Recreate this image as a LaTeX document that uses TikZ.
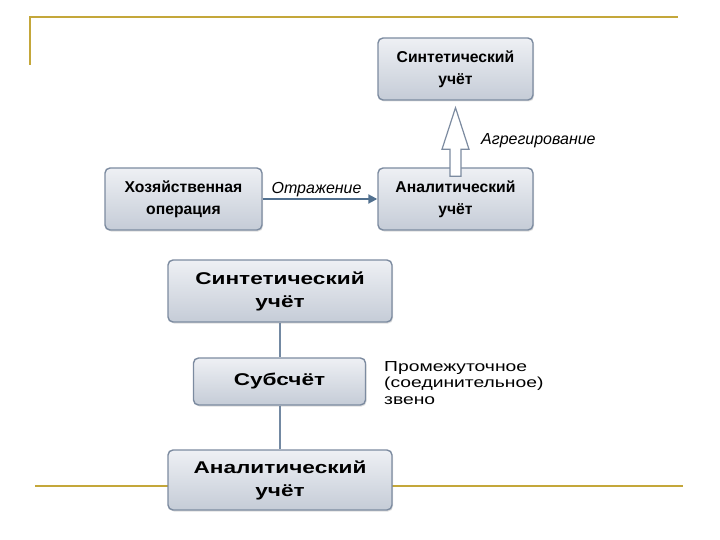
\documentclass[tikz,border=0pt]{standalone}
\usepackage{fontspec}
\setmainfont{Liberation Sans}
\newfontfamily\widefont[FakeStretch=1.33]{Liberation Sans}
\usetikzlibrary{arrows.meta,shadows,calc}
\definecolor{gold}{HTML}{C4A73A}
\definecolor{boxtop}{HTML}{EEF0F4}
\definecolor{boxbot}{HTML}{C5CCD7}
\definecolor{boxline}{HTML}{7C8BA0}
\definecolor{arrowc}{HTML}{51708F}
\definecolor{linkc}{HTML}{7389A2}
\tikzset{
  box/.style={draw=boxline, line width=1.4pt, rounded corners=5pt,
    top color=boxtop, bottom color=boxbot, align=center,
    inner sep=0pt,
    drop shadow={shadow xshift=1pt, shadow yshift=-1.5pt, opacity=0.25}},
  smallbox/.style={box, minimum width=155pt, minimum height=62pt,
    font=\bfseries\fontsize{15.7}{22}\selectfont},
  bigbox/.style={box, minimum width=224pt, minimum height=62pt,
    font=\widefont\bfseries\fontsize{17}{23}\selectfont},
  goldline/.style={draw=gold, line width=1.6pt},
  lbl/.style={font=\itshape\fontsize{16}{18}\selectfont, inner sep=1pt},
  link/.style={linkc, line width=1.8pt},
}
\begin{document}
\begin{tikzpicture}[x=1pt,y=-1pt]
\useasboundingbox (0,0) rectangle (720,540);
% frame lines
\draw[goldline] (30,65) -- (30,17) -- (678,17);
\draw[goldline] (35,486) -- (683,486);
% top part
\node[smallbox] (syn1) at (455.5,69) {Синтетический\\учёт};
\node[smallbox] (an1) at (455.5,199) {Аналитический\\учёт};
\node[smallbox, minimum width=157pt] (hoz) at (183.5,199) {Хозяйственная\\операция};
\draw[arrowc, line width=2pt, -{Triangle[length=9pt,width=9pt]}] (hoz.east) -- node[lbl, above, black, pos=0.47] {Отражение} (an1.west);
% hollow block arrow
\coordinate (ab) at ([yshift=-9pt]an1.north);
\draw[boxline, line width=1.2pt, fill=white]
  ($(ab)+(-5.5,0)$) -- ++(0,-27) -- ++(-8,0) -- ($(syn1.south)+(0,7)$) -- ($(ab)+(13.5,-27)$) -- ++(-8,0) -- ($(ab)+(5.5,0)$) -- cycle;
\node[lbl, anchor=west] (agg) at (480,141) {Агрегирование};
% bottom part
\node[bigbox] (syn2) at (280,291) {Синтетический\\учёт};
\node[bigbox, minimum width=172pt, minimum height=47pt] (sub) at (279.5,381.5) {Субсчёт};
\node[bigbox, minimum height=60pt] (an2) at (280,480) {Аналитический\\учёт};
\draw[link] (syn2.south) -- (syn2.south |- sub.north);
\draw[link] (sub.south -| an2.north) -- (an2.north);
\node[anchor=north west, align=left, inner sep=0pt, font=\widefont\fontsize{14.5}{16.7}\selectfont] (note) at (384,361) {Промежуточное\\(соединительное)\\звено};
\end{tikzpicture}
\end{document}
